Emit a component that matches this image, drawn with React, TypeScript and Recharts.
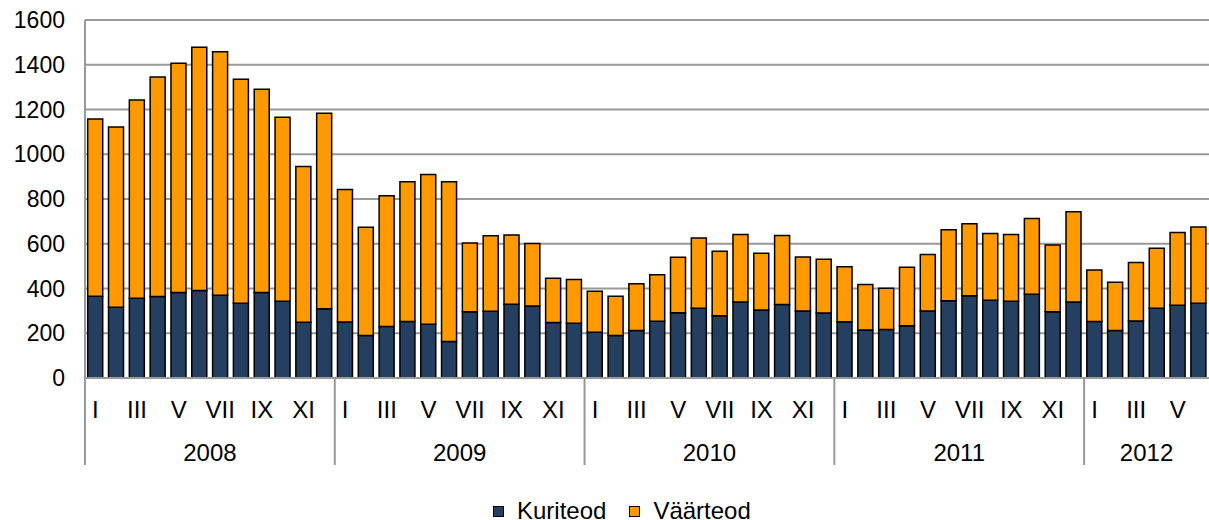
import React from "react";
import { Bar, BarChart, CartesianGrid, XAxis, YAxis } from "recharts";

// months shown on the axis (Roman numerals), years with their month counts
const monthNames = ["I", "II", "III", "IV", "V", "VI", "VII", "VIII", "IX", "X", "XI", "XII"];
const years = ["2008", "2009", "2010", "2011", "2012"];
const monthsPerYear = [12, 12, 12, 12, 6];

const kuriteod = [
  365, 316, 356, 364, 382, 391, 370, 334, 382, 343, 249, 310,
  250, 190, 230, 252, 240, 163, 296, 298, 330, 322, 248, 245,
  205, 190, 212, 254, 292, 312, 278, 340, 304, 328, 300, 290,
  251, 215, 217, 234, 300, 345, 368, 348, 343, 374, 296, 340,
  252, 212, 255, 312, 325, 334,
];

const vaarteod = [
  793, 806, 886, 981, 1025, 1087, 1088, 1001, 908, 822, 696, 873,
  593, 484, 584, 625, 670, 714, 307, 338, 309, 279, 198, 195,
  183, 175, 209, 208, 248, 314, 288, 301, 254, 309, 241, 241,
  246, 203, 184, 261, 252, 318, 321, 298, 298, 339, 298, 403,
  231, 216, 261, 268, 325, 341,
];

const yTicks = [0, 200, 400, 600, 800, 1000, 1200, 1400, 1600];

const WIDTH = 1209;
const HEIGHT = 520;
const Y_AXIS_W = 85;
const FONT = "'Liberation Sans', Arial, sans-serif";
const NAVY = "#243F60";
const ORANGE = "#FF9900";
const GRID = "#999999";

type Row = {
  key: string;
  year: string;
  month: string;
  monthIdx: number;
  yearIdx: number;
  kuriteod: number;
  vaarteod: number;
};

const rows: Row[] = [];
years.forEach((year, yi) => {
  for (let m = 0; m < monthsPerYear[yi]; m++) {
    const i = rows.length;
    rows.push({
      key: `${year}-${monthNames[m]}`,
      year,
      month: monthNames[m],
      monthIdx: m,
      yearIdx: yi,
      kuriteod: kuriteod[i],
      vaarteod: vaarteod[i],
    });
  }
});

const bandWidth = (WIDTH - Y_AXIS_W) / rows.length;

function MonthYearTick(props: any) {
  const { x, y, payload } = props;
  const row = rows[payload.index];
  if (!row) return null;
  const n = monthsPerYear[row.yearIdx];
  const mid = Math.floor((n - 1) / 2);
  const yearX = x + (n / 2 - 0.5 - mid) * bandWidth;
  return (
    <g>
      {row.monthIdx % 2 === 0 && (
        <text x={x} y={y + 40} textAnchor="middle" fontSize={24} fill="#000" fontFamily={FONT}>
          {row.month}
        </text>
      )}
      {row.monthIdx === mid && (
        <text x={yearX} y={y + 83} textAnchor="middle" fontSize={24} fill="#000" fontFamily={FONT}>
          {row.year}
        </text>
      )}
      {row.monthIdx === 0 && (
        <line x1={x - bandWidth / 2} x2={x - bandWidth / 2} y1={y} y2={y + 87} stroke={GRID} strokeWidth={2} />
      )}
    </g>
  );
}

function LegendItem({ color, label }: { color: string; label: string }) {
  return (
    <span style={{ display: "inline-flex", alignItems: "center", marginRight: 23 }}>
      <span
        style={{
          display: "inline-block",
          boxSizing: "border-box",
          width: 11,
          height: 11,
          background: color,
          border: "1.5px solid #000",
          marginRight: 13,
        }}
      />
      {label}
    </span>
  );
}

export default function App() {
  return (
    <div style={{ position: "absolute", left: 0, top: 0, width: WIDTH, height: HEIGHT, fontFamily: FONT, background: "#fff", overflow: "hidden" }}>
      <BarChart
        width={WIDTH}
        height={HEIGHT}
        data={rows}
        margin={{ top: 20, right: 0, left: 0, bottom: 0 }}
        barCategoryGap="13%"
      >
        <CartesianGrid vertical={false} stroke={GRID} strokeWidth={2} />
        <XAxis
          dataKey="key"
          interval={0}
          height={142}
          tickLine={false}
          tickSize={0}
          tickMargin={0}
          axisLine={{ stroke: GRID, strokeWidth: 2 }}
          tick={<MonthYearTick />}
        />
        <YAxis
          width={Y_AXIS_W}
          domain={[0, 1600]}
          ticks={yTicks}
          interval={0}
          tickLine={false}
          tickSize={6}
          tickMargin={14}
          axisLine={{ stroke: GRID, strokeWidth: 2 }}
          tick={{ fontSize: 23, fill: "#000", fontFamily: FONT }}
        />
        <Bar dataKey="kuriteod" name="Kuriteod" stackId="a" fill={NAVY} stroke="#000" strokeWidth={1.5} isAnimationActive={false} />
        <Bar dataKey="vaarteod" name="Väärteod" stackId="a" fill={ORANGE} stroke="#000" strokeWidth={1.5} isAnimationActive={false} />
      </BarChart>
      <div
        style={{
          position: "absolute",
          left: 493,
          top: 502,
          height: 18,
          fontSize: 24,
          color: "#000",
          lineHeight: "18px",
          display: "flex",
          alignItems: "center",
          whiteSpace: "nowrap",
        }}
      >
        <LegendItem color={NAVY} label="Kuriteod" />
        <LegendItem color={ORANGE} label="Väärteod" />
      </div>
    </div>
  );
}
